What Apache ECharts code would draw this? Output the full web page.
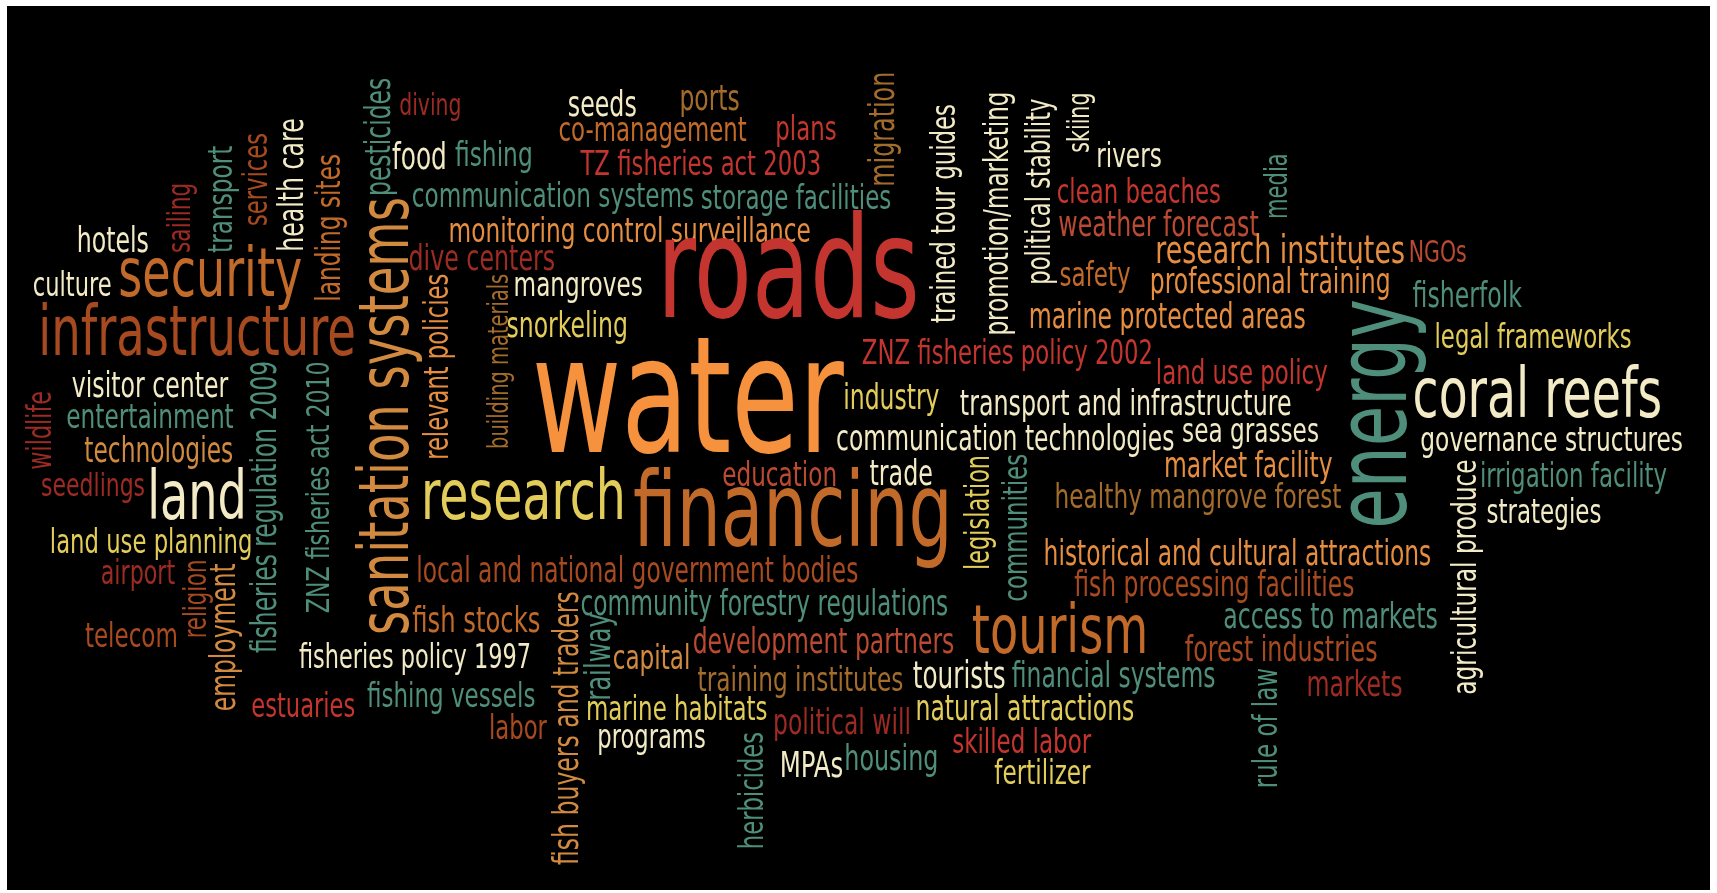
<!DOCTYPE html>
<html>
<head>
<meta charset="utf-8">
<title>word cloud</title>
<script src="https://cdn.jsdelivr.net/npm/echarts@6/dist/echarts.min.js"></script>
<style>
  html, body { margin: 0; padding: 0; background: #fff; }
  #main { width: 1717px; height: 893px; }
</style>
</head>
<body>
<div id="main"></div>
<script>
// words of the cloud, with where they sit (x, y) and how long they run (span), in picture units
var words = [
  'diving', 'seeds', 'ports', 'co-management', 'plans', 'TZ fisheries act 2003', 'food', 'fishing',
  'communication systems', 'storage facilities', 'monitoring control surveillance', 'dive centers',
  'mangroves', 'snorkeling', 'hotels', 'culture', 'security', 'infrastructure', 'roads', 'water',
  'rivers', 'clean beaches', 'weather forecast', 'research institutes', 'NGOs', 'safety',
  'professional training', 'marine protected areas', 'ZNZ fisheries policy 2002', 'land use policy',
  'fisherfolk', 'legal frameworks', 'coral reefs', 'governance structures', 'industry',
  'transport and infrastructure', 'communication technologies', 'sea grasses', 'market facility',
  'irrigation facility', 'strategies', 'healthy mangrove forest', 'education', 'trade', 'financing',
  'research', 'land', 'visitor center', 'entertainment', 'technologies', 'seedlings',
  'land use planning', 'airport', 'telecom', 'local and national government bodies',
  'community forestry regulations', 'fish stocks', 'fisheries policy 1997', 'capital',
  'development partners', 'tourism', 'historical and cultural attractions', 'fish processing facilities',
  'access to markets', 'forest industries', 'markets', 'training institutes', 'tourists',
  'financial systems', 'fishing vessels', 'estuaries', 'labor', 'marine habitats', 'political will',
  'natural attractions', 'programs', 'skilled labor', 'MPAs', 'housing', 'fertilizer',
  // upright words
  'trained tour guides', 'promotion/marketing', 'political stability', 'skiing', 'migration', 'media',
  'energy', 'agricultural produce', 'legislation', 'communities', 'religion', 'employment',
  'fisheries regulation 2009', 'ZNZ fisheries act 2010', 'wildlife', 'sailing', 'transport', 'services',
  'health care', 'landing sites', 'pesticides', 'sanitation systems', 'relevant policies',
  'building materials', 'fish buyers and traders', 'railway', 'rule of law', 'herbicides'
];
var xs = [
  393, 550, 648, 596, 736, 640, 383, 451,
  505, 727, 575, 440,
  528, 518, 103, 66, 192, 180, 720, 628,
  1031, 1040, 1058, 1169, 1313, 1000,
  1160, 1066, 920, 1134,
  1340, 1400, 1404, 1417, 814,
  1028, 918, 1142, 1140,
  1437, 1410, 1094, 712, 823, 724,
  478, 180, 137, 137, 145, 85,
  138, 126, 120, 582,
  698, 435, 379, 595,
  752, 968, 1130, 1109,
  1215, 1170, 1237, 731, 876,
  1017, 412, 277, 473, 618, 769,
  936, 595, 933, 741, 814, 952,
  862, 910, 948, 985, 806, 1165,
  1258, 1337, 893, 927, 178, 204,
  241, 290, 36, 163, 201, 233,
  266, 300, 345, 354, 399,
  455, 517, 546, 1156, 686
];
var ys = [
  95, 95, 90, 118, 117, 149, 143, 141,
  178, 180, 210, 236,
  260, 297, 219, 260, 252, 305, 254, 372,
  142, 175, 205, 228, 230, 251,
  257, 289, 322, 340,
  270, 307, 362, 401, 363,
  368, 400, 393, 425,
  434, 467, 453, 433, 432, 472,
  455, 455, 352, 380, 411, 443,
  495, 523, 580, 521,
  551, 566, 600, 600,
  586, 578, 505, 534,
  563, 593, 625, 620, 617,
  617, 635, 644, 664, 647, 660,
  647, 673, 677, 699, 692, 705,
  195, 195, 175, 112, 118, 170,
  378, 527, 468, 482, 547, 582,
  463, 445, 393, 199, 182, 164,
  169, 208, 125, 380, 335,
  330, 665, 600, 665, 722
];
var spans = [
  57, 63, 55, 172, 56, 220, 50, 71,
  258, 174, 331, 134,
  118, 111, 66, 72, 168, 290, 240, 285,
  60, 150, 183, 228, 53, 65,
  220, 253, 266, 157,
  100, 180, 228, 240, 88,
  303, 309, 125, 154,
  171, 105, 262, 105, 58, 292,
  187, 91, 143, 153, 136, 95,
  185, 68, 85, 404,
  336, 117, 212, 71,
  239, 161, 354, 256,
  196, 176, 88, 188, 85,
  186, 154, 95, 53, 166, 126,
  200, 99, 127, 58, 86, 88,
  200, 223, 170, 55, 105, 60,
  210, 215, 105, 135, 72, 135,
  267, 230, 72, 64, 98, 85,
  122, 135, 108, 400, 170,
  160, 250, 80, 110, 107
];
var upright = 80; // words from this index on read bottom to top

// colour of each word, by name
var tones = [
  'darkred', 'cream', 'dimbrown', 'brown', 'red', 'red', 'cream', 'teal',
  'teal', 'teal', 'amber', 'darkred',
  'cream', 'yellow', 'cream', 'cream', 'brown', 'rust', 'red', 'orange',
  'cream', 'red', 'brickred', 'amber', 'brickred', 'brown',
  'amber', 'amber', 'red', 'red',
  'teal', 'yellow', 'cream', 'cream', 'yellow',
  'cream', 'cream', 'cream', 'amber',
  'teal', 'cream', 'dimbrown', 'brickred', 'cream', 'brown',
  'yellow', 'cream', 'cream', 'teal', 'tan', 'darkred',
  'yellow', 'darkred', 'rust', 'rust',
  'teal', 'brown', 'cream', 'tan',
  'brickred', 'brown', 'amber', 'rust',
  'teal', 'rust', 'darkred', 'dimbrown', 'cream',
  'teal', 'teal', 'red', 'rust', 'yellow', 'darkred',
  'yellow', 'cream', 'red', 'cream', 'teal', 'yellow',
  'cream', 'cream', 'cream', 'cream', 'dimbrown', 'teal',
  'teal', 'cream', 'yellow', 'teal', 'rust', 'tan',
  'teal', 'teal', 'darkred', 'darkred', 'teal', 'rust',
  'cream', 'brown', 'teal', 'tan', 'amber',
  'dimbrown', 'tan', 'teal', 'teal', 'teal'
];

var palette = {
  cream: '#f2ebc6',
  yellow: '#e2cd5a',
  orange: '#f6913e',
  amber: '#e58d40',
  tan: '#d28a40',
  brown: '#c26a29',
  rust: '#a84a20',
  dimbrown: '#a46c2c',
  brickred: '#bb4a32',
  red: '#c4352f',
  darkred: '#9c2b24',
  teal: '#4f8e7a'
};

var FONT = '"DejaVu Sans Condensed", "Liberation Sans Narrow", "Noto Sans", sans-serif';
var SQUEEZE = 0.75; // the cloud's face is narrower than any installed one

var myChart = echarts.init(document.getElementById('main'));

// 以 100px 字号量出每个词的宽度，再按参考图里的长度定字号
var ctx = document.createElement('canvas').getContext('2d');
ctx.font = '100px ' + FONT;
var k = 1717 / 1568;
var sizes = words.map(function(w, i) {
  return spans[i] * k / (ctx.measureText(w).width / 100 * SQUEEZE);
});

var cloud = [];
words.forEach(function(w, i) {
  cloud.push([xs[i], ys[i]]);
});

function renderWord(params, api) {
  var i = params.dataIndex;
  var p = api.coord([api.value(0), api.value(1)]);
  return {
    type: 'text',
    x: p[0],
    y: p[1],
    rotation: i >= upright ? Math.PI / 2 : 0,
    scaleX: SQUEEZE,
    silent: true,
    style: {
      text: words[i],
      y: 2.7, // middle of the em box sits a little above the middle of the letters
      fontSize: sizes[i],
      fontFamily: FONT,
      fill: palette[tones[i]],
      align: 'center',
      verticalAlign: 'middle'
    }
  };
}

option = {
  backgroundColor: '#ffffff',
  animation: false,
  grid: {
    show: true,
    left: 7, right: 7, top: 6, bottom: 3,
    backgroundColor: '#000000',
    borderWidth: 0
  },
  xAxis: {
    type: 'value',
    min: 6.4, max: 1561.6,
    show: false
  },
  yAxis: {
    type: 'value',
    min: 5.5, max: 812.8,
    inverse: true,
    show: false
  },
  series: [{
    type: 'custom',
    renderItem: renderWord,
    encode: { x: 0, y: 1 },
    data: cloud,
    clip: false
  }]
};
myChart.setOption(option);
</script>
</body>
</html>
